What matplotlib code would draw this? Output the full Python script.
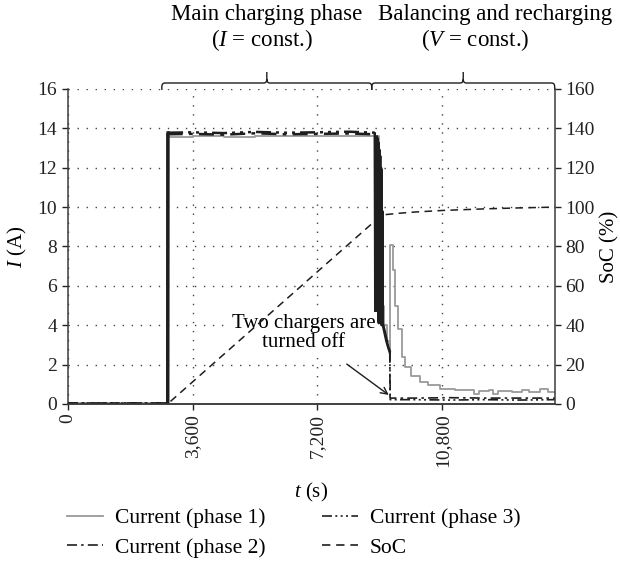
import matplotlib
matplotlib.use("Agg")
import matplotlib.pyplot as plt
from matplotlib.path import Path
from matplotlib.patches import PathPatch
from matplotlib.lines import Line2D
import matplotlib.transforms as mtransforms
from matplotlib.ticker import FuncFormatter

plt.rcParams["font.family"] = ["Liberation Serif", "DejaVu Serif"]
plt.rcParams["mathtext.fontset"] = "custom"
plt.rcParams["mathtext.rm"] = "Liberation Serif"
plt.rcParams["mathtext.it"] = "Liberation Serif:italic"

FS_TICK = 14
FS_LABEL = 15
FS_HEAD = 16.5
FS_LEG = 15.5

# ---- measured series -------------------------------------------------------
# Phase 1 current (A), stepped logger output
t_phase1 = [0, 2880, 2890, 3600, 4500, 5400, 6300, 7200, 8100, 8900,
            8960, 9000, 9060, 9120, 9200, 9280, 9300, 9370, 9430, 9510,
            9630, 9710, 9890, 10150, 10380, 10720, 11150, 11600, 11700,
            11850, 12150, 12250, 12400, 12800, 13100, 13300, 13600, 13850,
            14040]
i_phase1 = [0.05, 0.05, 13.55, 13.6, 13.58, 13.62, 13.6, 13.6, 13.63, 13.6,
            11.0, 7.5, 5.0, 4.0, 3.2, 2.2, 8.1, 6.8, 5.0, 3.8,
            2.4, 1.9, 1.4, 1.1, 0.95, 0.75, 0.7, 0.72, 0.5,
            0.65, 0.7, 0.5, 0.65, 0.62, 0.7, 0.62, 0.75, 0.6,
            0.55]

# Phase 2 current (A): idle, switch-on, constant-current, switch-off, residual
t_phase2_idle = [0, 2880]
i_phase2_idle = [0.05, 0.05]
t_phase2_on = [2880, 2885]
i_phase2_on = [0.05, 13.7]
t_phase2 = [2885, 3600, 4500, 5400, 6300, 7200, 8100, 8850]
i_phase2 = [13.7, 13.72, 13.68, 13.75, 13.7, 13.72, 13.74, 13.7]
t_phase2_off = [8850, 8860, 8870, 8880, 8890, 8900, 8910, 8920, 8930, 8940,
                8950, 8960, 8970, 8980, 8990, 9000, 9010, 9020, 9030, 9040,
                9050, 9060, 9070, 9080, 9130, 9180, 9230, 9283]
i_phase2_off = [13.7, 5.2, 13.6, 4.6, 13.1, 4.4, 12.8, 6.0, 13.5, 4.3,
                12.2, 4.8, 13.0, 4.2, 11.5, 5.5, 12.6, 4.1, 10.8, 4.6,
                11.9, 4.2, 9.8, 4.0, 3.6, 3.2, 2.9, 2.6]
t_phase2_end = [9283, 9290, 10000, 11000, 12000, 13000, 14040]
i_phase2_end = [2.6, 0.3, 0.3, 0.32, 0.3, 0.3, 0.3]

# Phase 3 current (A)
t_phase3_idle = [0, 2890]
i_phase3_idle = [0.05, 0.05]
t_phase3_on = [2890, 2895]
i_phase3_on = [0.05, 13.78]
t_phase3 = [2895, 3600, 4500, 5400, 6300, 7200, 8100, 8855]
i_phase3 = [13.78, 13.8, 13.76, 13.82, 13.78, 13.8, 13.83, 13.78]
t_phase3_off = [8855, 8865, 8875, 8885, 8895, 8905, 8915, 8925, 8935, 8945,
                8955, 8965, 8975, 8985, 8995, 9005, 9015, 9025, 9035, 9045,
                9055, 9065, 9075, 9085, 9140, 9190, 9240, 9285]
i_phase3_off = [13.75, 4.5, 13.2, 5.8, 12.9, 4.2, 13.6, 4.9, 12.4, 4.4,
                13.3, 4.1, 11.8, 5.0, 12.9, 4.3, 11.2, 4.5, 12.0, 4.0,
                10.5, 4.4, 9.0, 4.1, 3.7, 3.3, 2.9, 2.7]
t_phase3_end = [9285, 9295, 10000, 11000, 12000, 13000, 14040]
i_phase3_end = [2.7, 0.22, 0.22, 0.2, 0.22, 0.2, 0.22]

# State of charge (%)
t_soc = [0, 2880, 9050, 9500, 10000, 10800, 12000, 13000, 14040]
soc = [0, 0, 96.0, 96.8, 97.5, 98.3, 99.1, 99.6, 100.0]

x_ticks = [0, 3600, 7200, 10800]
i_ticks = [0, 2, 4, 6, 8, 10, 12, 14, 16]
soc_ticks = [0, 20, 40, 60, 80, 100, 120, 140, 160]

# ---- figure ----------------------------------------------------------------
fig = plt.figure(figsize=(6.2, 5.69), dpi=100)
ax = fig.add_axes([0.109, 0.290, 0.786, 0.5536])
ax2 = ax.twinx()

gray = "#9a9a9a"
ink = "#1e1e1e"
dash_dot = (0, (6, 2.5, 1.5, 2.5))
dash_dot3 = (0, (6, 2, 1.2, 2, 1.2, 2, 1.2, 2))
soc_dash = (0, (5, 3.5))

ax.plot(t_phase1, i_phase1, color=gray, lw=1.3, drawstyle="steps-post", zorder=3)

ax.plot(t_phase2_idle, i_phase2_idle, color=ink, lw=1.2, linestyle=dash_dot, zorder=4)
ax.plot(t_phase2_on, i_phase2_on, color=ink, lw=2.2, zorder=4)
ax.plot(t_phase2, i_phase2, color=ink, lw=1.8, linestyle=dash_dot, zorder=4)
ax.plot(t_phase2_off, i_phase2_off, color=ink, lw=1.6, zorder=4)
ax.plot(t_phase2_end, i_phase2_end, color=ink, lw=1.2, linestyle=dash_dot, zorder=4)

ax.plot(t_phase3_idle, i_phase3_idle, color=ink, lw=1.2, linestyle=dash_dot3, zorder=4)
ax.plot(t_phase3_on, i_phase3_on, color=ink, lw=2.2, zorder=4)
ax.plot(t_phase3, i_phase3, color=ink, lw=1.8, linestyle=dash_dot3, zorder=4)
ax.plot(t_phase3_off, i_phase3_off, color=ink, lw=1.6, zorder=4)
ax.plot(t_phase3_end, i_phase3_end, color=ink, lw=1.2, linestyle=dash_dot3, zorder=4)

ax2.plot(t_soc, soc, color=ink, lw=1.1, linestyle=soc_dash, zorder=2)

ax.set_xlim(0, 14040)
ax.set_ylim(0, 16)
ax2.set_ylim(0, 160)
ax.set_xticks(x_ticks)
ax.set_yticks(i_ticks)
ax2.set_yticks(soc_ticks)
ax.xaxis.set_major_formatter(FuncFormatter(lambda v, p: f"{int(v):,}"))
for lbl in ax.get_xticklabels():
    lbl.set_rotation(90)

spine_c = "#3c3c3c"
for a in (ax, ax2):
    a.spines["top"].set_visible(False)
    for s in ("left", "right", "bottom"):
        a.spines[s].set_color(spine_c)
        a.spines[s].set_linewidth(1.1)
    a.tick_params(labelsize=FS_TICK, colors="#222222", length=4, width=1.0,
                  direction="out")
ax.tick_params(axis="x", pad=3)
ax2.spines["left"].set_visible(False)
ax.spines["right"].set_visible(False)

ax.grid(True, linestyle=(0, (1, 5.5)), color="#444444", lw=1.0)
ax.set_axisbelow(True)

ax.set_xlabel(r"$t$ (s)", fontsize=FS_LABEL, labelpad=10)
ax.set_ylabel(r"$I$ (A)", fontsize=FS_LABEL, labelpad=6)
ax2.set_ylabel("SoC (%)", fontsize=FS_LABEL, labelpad=4)

# annotation for the switch-off event
ax.annotate("Two chargers are\nturned off", xy=(9253, 0.46), xytext=(6807, 3.63),
            fontsize=FS_LABEL, ha="center", va="center", linespacing=1.0,
            bbox=dict(boxstyle="square,pad=0.05", fc="white", ec="none"),
            arrowprops=dict(arrowstyle="->", color=ink, lw=1.0,
                            shrinkA=14, shrinkB=0, mutation_scale=12),
            zorder=6)

# braces marking the two charging stages
trans = mtransforms.blended_transform_factory(ax.transData, ax.transAxes)


def brace(x0, x1, yb, ym, yt, rx=90, ry=0.012):
    xc = 0.5 * (x0 + x1)
    verts = [(x0, yb), (x0, ym - ry), (x0, ym), (x0 + rx, ym),
             (xc - rx, ym), (xc, ym), (xc, ym + ry), (xc, yt),
             (xc, ym + ry), (xc, ym), (xc + rx, ym),
             (x1 - rx, ym), (x1, ym), (x1, ym - ry), (x1, yb)]
    codes = [Path.MOVETO, Path.LINETO, Path.CURVE3, Path.CURVE3,
             Path.LINETO, Path.CURVE3, Path.CURVE3, Path.LINETO,
             Path.MOVETO, Path.CURVE3, Path.CURVE3,
             Path.LINETO, Path.CURVE3, Path.CURVE3, Path.LINETO]
    patch = PathPatch(Path(verts, codes), transform=trans, fill=False,
                      ec=ink, lw=1.0, clip_on=False)
    ax.add_patch(patch)
    return xc


brace_edges = [2716, 8764, 14034]
c1 = brace(brace_edges[0], brace_edges[1], 0.997, 1.019, 1.054)
c2 = brace(brace_edges[1], brace_edges[2], 0.997, 1.019, 1.054)

ax.text(c1, 1.237, "Main charging phase", transform=trans, fontsize=FS_HEAD,
        ha="center", va="center")
ax.text(c1 - 144, 1.157, r"($I$ = const.)", transform=trans, fontsize=FS_HEAD,
        ha="center", va="center")
ax.text(c2 + 907, 1.237, "Balancing and recharging", transform=trans,
        fontsize=FS_HEAD, ha="center", va="center")
ax.text(c2 + 340, 1.157, r"($V$ = const.)", transform=trans, fontsize=FS_HEAD,
        ha="center", va="center")

# legend
handles = [
    Line2D([], [], color=gray, lw=1.3),
    Line2D([], [], color=ink, lw=1.2, linestyle=dash_dot),
    Line2D([], [], color=ink, lw=1.2, linestyle=dash_dot3),
    Line2D([], [], color=ink, lw=1.2, linestyle=soc_dash),
]
labels = ["Current (phase 1)", "Current (phase 2)",
          "Current (phase 3)", "SoC"]
fig.legend(handles, labels, ncol=2, loc="upper left",
           bbox_to_anchor=(67 / 620, 1 - 508 / 569), frameon=False,
           fontsize=FS_LEG, borderpad=0, borderaxespad=0,
           handlelength=1.67, columnspacing=2.6, labelspacing=0.45,
           handletextpad=0.56)

fig.savefig("out.png", dpi=100)
